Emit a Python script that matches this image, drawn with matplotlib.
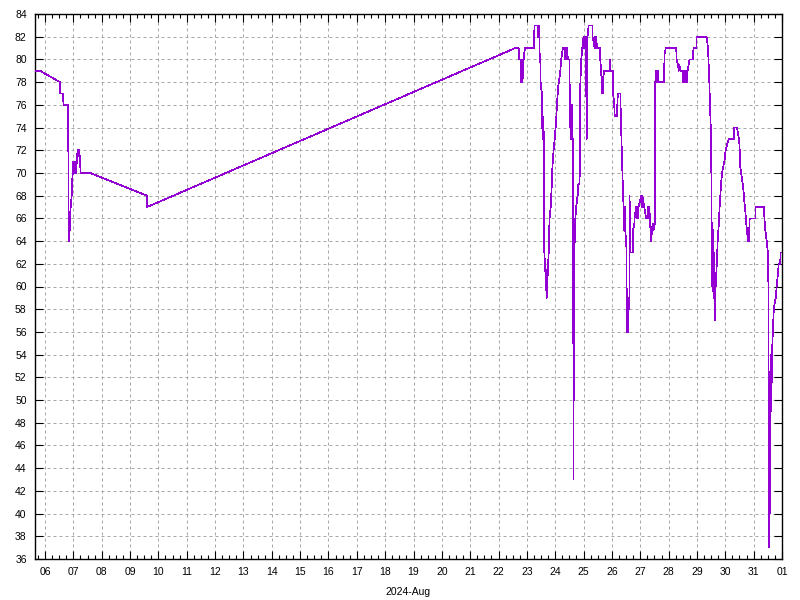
import matplotlib
matplotlib.use("Agg")
import matplotlib.pyplot as plt
import matplotlib.dates as mdates
import pandas as pd

# day of August 2024 (32 = Sep 01), temperature
day = [5.64, 5.82, 6.53, 6.54, 6.64, 6.65, 6.82, 6.83, 6.85, 6.855, 6.88, 6.89, 6.94, 6.95,
       6.98, 7.00, 7.02, 7.04, 7.09, 7.10, 7.12, 7.15, 7.20, 7.21, 7.24, 7.25, 7.59, 9.59,
       9.60, 22.59, 22.71, 22.715, 22.79, 22.795, 22.85, 22.855, 22.90, 22.905, 22.93, 23.24,
       23.27, 23.38, 23.39, 23.40, 23.41, 23.42, 23.44, 23.45, 23.47, 23.485, 23.50, 23.53,
       23.54, 23.55, 23.56, 23.57, 23.58, 23.61, 23.615, 23.65, 23.66, 23.67, 23.68, 23.70,
       23.72, 23.74, 23.77, 23.775, 23.80, 23.84, 23.87, 23.90, 23.94, 23.98, 24.03, 24.06,
       24.10, 24.13, 24.18, 24.21, 24.27, 24.35, 24.355, 24.36, 24.38, 24.39, 24.41, 24.45,
       24.50, 24.51, 24.53, 24.54, 24.55, 24.56, 24.59, 24.60, 24.61, 24.615, 24.62, 24.625,
       24.63, 24.635, 24.64, 24.645, 24.65, 24.655, 24.67, 24.71, 24.74, 24.79, 24.80, 24.81,
       24.82, 24.86, 24.88, 24.92, 24.955, 25.00, 25.02, 25.04, 25.06, 25.08, 25.11, 25.12,
       25.14, 25.18, 25.31, 25.315, 25.36, 25.39, 25.41, 25.43, 25.45, 25.47, 25.50, 25.57,
       25.59, 25.63, 25.66, 25.67, 25.68, 25.70, 25.73, 25.91, 25.92, 25.93, 25.94, 25.95,
       26.04, 26.045, 26.08, 26.10, 26.18, 26.19, 26.21, 26.30, 26.305, 26.33, 26.37, 26.41,
       26.43, 26.45, 26.47, 26.51, 26.52, 26.53, 26.55, 26.56, 26.58, 26.60, 26.62, 26.625,
       26.63, 26.74, 26.745, 26.79, 26.80, 26.85, 26.87, 26.89, 26.91, 26.94, 27.03, 27.05,
       27.07, 27.14, 27.21, 27.26, 27.28, 27.30, 27.32, 27.36, 27.39, 27.41, 27.44, 27.47,
       27.51, 27.515, 27.555, 27.56, 27.63, 27.635, 27.83, 27.86, 27.90, 28.27, 28.28, 28.33,
       28.36, 28.38, 28.41, 28.50, 28.51, 28.53, 28.54, 28.59, 28.61, 28.63, 28.65, 28.67,
       28.74, 28.85, 28.86, 28.88, 28.98, 28.985, 29.34, 29.39, 29.43, 29.46, 29.50, 29.52,
       29.54, 29.56, 29.58, 29.60, 29.63, 29.66, 29.70, 29.73, 29.77, 29.80, 29.85, 29.885,
       29.92, 29.97, 30.01, 30.12, 30.30, 30.305, 30.41, 30.45, 30.50, 30.53, 30.59, 30.64,
       30.67, 30.71, 30.74, 30.78, 30.80, 30.81, 30.83, 30.86, 31.06, 31.065, 31.36, 31.38,
       31.41, 31.46, 31.50, 31.525, 31.53, 31.535, 31.54, 31.55, 31.56, 31.57, 31.58, 31.59,
       31.595, 31.60, 31.61, 31.62, 31.63, 31.64, 31.66, 31.685, 31.71, 31.74, 31.78, 31.81,
       31.85, 31.885, 31.94, 31.945, 31.98, 32.00]
temp = [79, 79, 78, 77, 77, 76, 76, 64, 64, 65, 65, 66.5, 68, 69,
        70, 71, 70, 71, 71, 70, 71, 72, 72, 71.5, 71.5, 70, 70, 68,
        67, 81, 81, 80, 80, 78, 78, 80, 80, 80.5, 81, 81,
        83, 83, 82, 83, 82, 83, 82, 80.5, 80.5, 78, 77.5, 77,
        75, 73, 75, 73, 74, 73, 63, 61.5, 60, 61.5, 60, 59,
        60, 61.5, 63, 64, 66, 67, 68.5, 70.5, 72, 73, 74.5, 76,
        77.5, 78, 79, 80, 81, 81, 80, 81, 80, 81, 81, 80,
        80, 77.5, 74.5, 73, 75, 73, 73, 76, 69, 73, 62, 70,
        55, 66, 50, 43, 50, 63, 62.5, 66, 67, 68, 69, 68,
        69, 69, 77.5, 80, 81, 82, 81, 82, 81, 82, 73, 82,
        82, 83, 83, 82, 81.5, 81, 82, 81, 82, 81, 81, 81,
        80, 78.5, 77, 78.5, 77, 78.5, 79, 79, 80, 79, 80, 79,
        79, 77, 76, 75, 75, 76, 77, 77, 76, 73.5, 70, 67,
        65, 67, 65, 63.5, 59, 56, 58, 56, 59, 58, 59, 68,
        63, 63, 65, 65.5, 66, 67, 66, 67, 66, 67, 68, 67,
        68, 67, 66, 66, 67, 66, 67, 65, 64, 65, 65.5, 65,
        65.5, 78, 78, 79, 79, 78, 78, 80.5, 81, 81, 80, 79.5,
        79, 79.5, 79, 79, 78, 79, 78, 79, 78, 79, 78, 79,
        80, 80, 80.5, 81, 81, 82, 82, 81, 78.5, 76, 73, 65,
        60, 65, 59, 63, 57, 60, 62, 64, 65.5, 67, 69, 70,
        70.5, 71, 72, 73, 73, 74, 74, 73.5, 72.5, 70.5, 69.5, 68.5,
        67.5, 66.5, 65.5, 64.5, 64, 64.5, 64, 66, 66, 67, 67, 66,
        65, 64, 63, 59.5, 37, 52, 38, 52.5, 38, 52, 40, 53,
        49, 54, 49, 54, 51, 52, 55, 56.5, 58, 58.5, 59, 60,
        61, 62, 62, 63, 63, 63]

base = pd.Timestamp("2024-07-31")
t = [base + pd.Timedelta(days=d) for d in day]

plt.rcParams['font.family'] = ['Liberation Sans', 'DejaVu Sans']

fig = plt.figure(figsize=(8, 6), dpi=100)
ax = fig.add_axes([35/800, 1 - 559/600, 747/800, 545/600])

ax.plot(t, temp, color='#9400D3', lw=0.5, antialiased=False, zorder=3)

ax.set_xlim(base + pd.Timedelta(days=5.647), base + pd.Timedelta(days=32))
ax.set_ylim(36, 84)
ax.set_yticks(range(36, 85, 2))

ax.xaxis.set_major_locator(mdates.DayLocator())
ax.xaxis.set_minor_locator(mdates.HourLocator(byhour=[6, 12, 18]))
ax.xaxis.set_major_formatter(mdates.DateFormatter('%d'))
ax.set_xlabel('2024-Aug', fontsize=7.5, labelpad=7)

ax.grid(True, which='major', color='#a8a8a8', lw=0.72, linestyle=(0, (3, 3)), zorder=1)
ax.tick_params(which='major', direction='in', length=6, width=0.8,
               top=True, right=True, labelsize=7.5, pad=6, colors='black')
ax.tick_params(which='minor', direction='in', length=3, width=0.8, top=True, right=True)
for s in ax.spines.values():
    s.set_linewidth(1.0)

plt.savefig('out.png', dpi=100)
